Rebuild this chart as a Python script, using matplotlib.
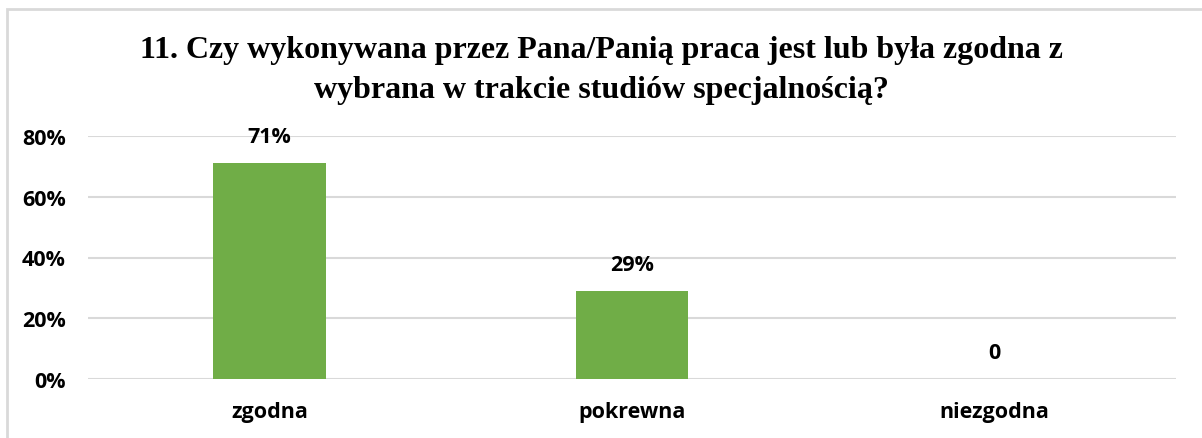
import matplotlib.pyplot as plt
import matplotlib.patches as patches
from matplotlib.ticker import PercentFormatter

categories = ["zgodna", "pokrewna", "niezgodna"]
values = [0.71, 0.29, 0.0]
value_labels = ["71%", "29%", "0"]
yticks = [0, 0.2, 0.4, 0.6, 0.8]

title = ("11. Czy wykonywana przez Pana/Panią praca jest lub była zgodna z\n"
         "wybrana w trakcie studiów specjalnością?")

W, H = 1202, 439
fig = plt.figure(figsize=(W / 100, H / 100), dpi=100)

# light frame round the chart (bottom/right run off the picture)
fig.patches.append(patches.Rectangle((7 / W, -0.1), 1.2, (H - 10) / H + 0.1,
                                     transform=fig.transFigure, fill=False,
                                     edgecolor="#D9D9D9", lw=2))

ax = fig.add_axes([88 / W, (H - 380) / H, (1176 - 88) / W, (380 - 137) / H])
x = range(len(categories))
ax.bar(x, values, width=0.31, color="#70AD47", zorder=3)
ax.set_xlim(-0.5, 2.5)
ax.set_ylim(0, 0.8)
ax.set_yticks(yticks)
ax.yaxis.set_major_formatter(PercentFormatter(1.0, decimals=0))
ax.grid(axis="y", color="#D9D9D9", lw=1.5, zorder=0)
ax.set_axisbelow(True)
for s in ax.spines.values():
    s.set_visible(False)
ax.tick_params(length=0)
ax.tick_params(axis="y", pad=16)
ax.tick_params(axis="x", pad=16)
ax.set_xticks(list(x))
ax.set_xticklabels(categories)
for lab in ax.get_xticklabels() + ax.get_yticklabels():
    lab.set_fontfamily("Open Sans")
    lab.set_fontweight("bold")
    lab.set_fontsize(15.5)

for xi, v, t in zip(x, values, value_labels):
    ax.annotate(t, (xi, v), xytext=(0, 19), textcoords="offset points",
                ha="center", va="center", fontfamily="Open Sans",
                fontweight="bold", fontsize=15.5, annotation_clip=False)

fig.text(0.5, (H - 71) / H, title, ha="center", va="center",
         fontfamily="Liberation Serif", fontweight="bold", fontsize=23,
         linespacing=1.5)

fig.savefig("out.png", dpi=100)
